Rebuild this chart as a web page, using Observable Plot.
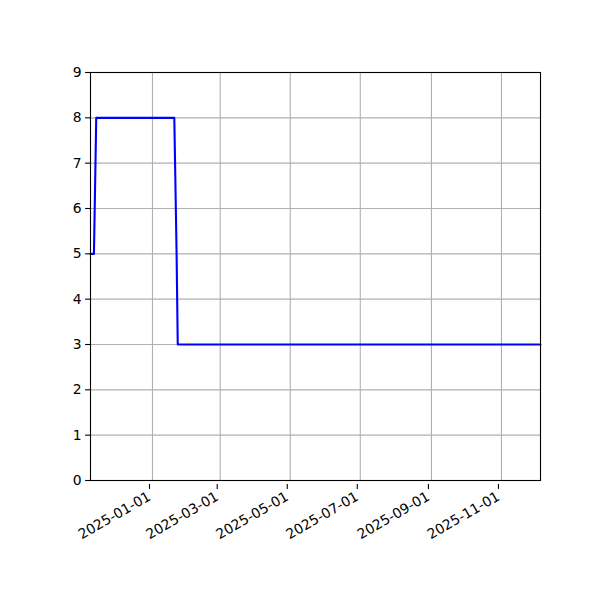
<!DOCTYPE html>
<html>
<head>
<meta charset="utf-8">
<script src="https://cdn.jsdelivr.net/npm/d3@7"></script>
<script src="https://cdn.jsdelivr.net/npm/@observablehq/plot@0.6"></script>
<style>
  body { margin: 0; background: white; }
  svg { font-family: "DejaVu Sans", sans-serif; }
</style>
</head>
<body>
<div id="chart"></div>
<script>
const dates = ["2024-11-08", "2024-11-11", "2024-11-13", "2025-01-20", "2025-01-22", "2025-01-23", "2025-12-05"];
const values = [5, 5, 8, 8, 5, 3, 3];
const xTicks = ["2025-01-01", "2025-03-01", "2025-05-01", "2025-07-01", "2025-09-01", "2025-11-01"];
const yTicks = [0, 1, 2, 3, 4, 5, 6, 7, 8, 9];

const data = dates.map((d, i) => ({date: new Date(d + "T00:00:00Z"), value: values[i]}));
const xTickDates = xTicks.map(d => new Date(d + "T00:00:00Z"));
const fmt = d3.utcFormat("%Y-%m-%d");

const chart = Plot.plot({
  width: 600,
  height: 600,
  marginLeft: 90,
  marginRight: 60,
  marginTop: 72,
  marginBottom: 120,
  style: {fontFamily: "DejaVu Sans, sans-serif", fontSize: "13.9px", background: "white", color: "black"},
  x: {type: "utc", domain: [data[0].date, data[data.length - 1].date]},
  y: {type: "linear", domain: [0, 9]},
  marks: [
    Plot.gridX(xTickDates, {stroke: "#b0b0b0", strokeOpacity: 1, strokeWidth: 1.1}),
    Plot.gridY(yTicks, {stroke: "#b0b0b0", strokeOpacity: 1, strokeWidth: 1.1}),
    Plot.line(data, {x: "date", y: "value", stroke: "blue", strokeWidth: 2.1}),
    Plot.frame({stroke: "black", strokeWidth: 1.1}),
    Plot.axisX(xTickDates, {tickSize: 4.9, tickPadding: 6, tickFormat: fmt, tickRotate: -30, label: null, fontSize: 13.9, textAnchor: "end", dx: -3, dy: 4, strokeWidth: 1.1}),
    Plot.axisY(yTicks, {tickSize: 4.9, tickPadding: 4, label: null, fontSize: 13.9, strokeWidth: 1.1})
  ]
});
document.getElementById("chart").appendChild(chart);
</script>
</body>
</html>
